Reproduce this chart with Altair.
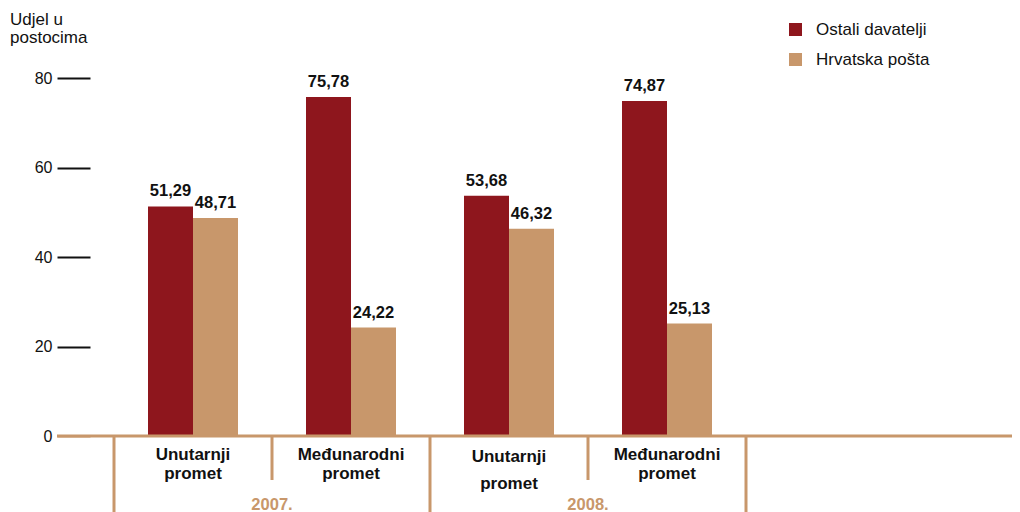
import altair as alt
import pandas as pd

# ---- data ----
years = ["2007.", "2007.", "2008.", "2008."]
types = ["Unutarnji promet", "Međunarodni promet", "Unutarnji promet", "Međunarodni promet"]
label_line1 = ["Unutarnji", "Međunarodni", "Unutarnji", "Međunarodni"]
label_line2 = ["promet", "promet", "promet", "promet"]
series = ["Ostali davatelji", "Hrvatska pošta"]
ostali = [51.29, 75.78, 53.68, 74.87]
hrvatska = [48.71, 24.22, 46.32, 25.13]
y_ticks = [0, 20, 40, 60, 80]
y_title = "Udjel u\npostocima"

# ---- style ----
FONT = "Liberation Sans"
RED = "#8E161D"
TAN = "#C8976B"
INK = "#111111"
W, H = 955, 358

keys = [f"{t} {y}" for t, y in zip(types, years)]
rows = []
for k, a, b in zip(keys, ostali, hrvatska):
    rows.append({"key": k, "series": series[0], "value": a})
    rows.append({"key": k, "series": series[1], "value": b})
bars_df = pd.DataFrame(rows)
cat_df = pd.DataFrame({"key": keys, "year": years, "l1": label_line1,
                       "l2": label_line2, "idx": list(range(len(keys)))})

x_scale = alt.Scale(domain=keys, range=[57, 689], paddingInner=0, paddingOuter=0)
x_axis = alt.Axis(labels=False, ticks=False, title=None, domain=False, grid=False)
y_scale = alt.Scale(domain=[0, 80], nice=False)
y_axis = alt.Axis(values=y_ticks, offset=-33, tickSize=33,
                  tickColor={"condition": {"test": "datum.value === 0", "value": TAN},
                             "value": INK},
                  tickWidth=2, domain=False, grid=False, labelFont=FONT, labelFontSize=16,
                  labelColor=INK, labelPadding=5, title=None)
xoff = alt.XOffset("series:N", scale=alt.Scale(domain=series, paddingInner=0,
                                               paddingOuter=0.7556))

base = alt.Chart(bars_df).encode(
    x=alt.X("key:N", scale=x_scale, axis=x_axis),
    xOffset=xoff,
    y=alt.Y("value:Q", scale=y_scale, axis=y_axis),
)

bars = base.mark_bar().encode(
    color=alt.Color("series:N", scale=alt.Scale(domain=series, range=[RED, TAN]),
                    legend=alt.Legend(orient="none", legendX=730, legendY=-57, title=None,
                                      symbolType="square", symbolSize=169,
                                      symbolStrokeWidth=0, labelFont=FONT,
                                      labelFontSize=17, labelColor=INK,
                                      rowPadding=12, labelOffset=12, padding=0))
)

vals = base.transform_calculate(
    lab="replace(format(datum.value, '.2f'), '.', ',')"
).mark_text(baseline="alphabetic", dy=-10, fontWeight="bold", fontSize=16.5,
            font=FONT, color=INK).encode(text="lab:N")

baseline_rule = alt.Chart(pd.DataFrame({"v": [0]})).mark_rule(
    color=TAN, strokeWidth=3).encode(
    x=alt.value(0), x2=alt.value(W),
    y=alt.Y("v:Q", scale=y_scale, axis=y_axis))

cbase = alt.Chart(cat_df)
xk = alt.X("key:N", scale=x_scale, axis=x_axis)
txt = dict(fontWeight="bold", fontSize=17, font=FONT, color=INK, baseline="middle")

l1 = cbase.transform_filter("datum.idx != 2").mark_text(**txt).encode(
    x=xk, y=alt.value(377), text="l1:N")
l2 = cbase.transform_filter("datum.idx != 2").mark_text(**txt).encode(
    x=xk, y=alt.value(396), text="l2:N")
l1b = cbase.transform_filter("datum.idx == 2").mark_text(**txt).encode(
    x=xk, y=alt.value(379), text="l1:N")
l2b = cbase.transform_filter("datum.idx == 2").mark_text(**txt).encode(
    x=xk, y=alt.value(406), text="l2:N")

sep_long = cbase.transform_filter("datum.idx == 0 || datum.idx == 2").mark_rule(
    color=TAN, strokeWidth=3).encode(
    x=alt.X("key:N", scale=x_scale, axis=x_axis, bandPosition=0),
    y=alt.value(H), y2=alt.value(H + 80))
sep_end = cbase.transform_filter("datum.idx == 3").mark_rule(
    color=TAN, strokeWidth=3).encode(
    x=alt.X("key:N", scale=x_scale, axis=x_axis, bandPosition=1),
    y=alt.value(H), y2=alt.value(H + 80))
sep_short = cbase.transform_filter("datum.idx == 1 || datum.idx == 3").mark_rule(
    color=TAN, strokeWidth=3).encode(
    x=alt.X("key:N", scale=x_scale, axis=x_axis, bandPosition=0),
    y=alt.value(H), y2=alt.value(402))

year_lbl = cbase.transform_filter("datum.idx == 1 || datum.idx == 3").mark_text(
    fontWeight="bold", fontSize=16.5, font=FONT, color=TAN, baseline="alphabetic").encode(
    x=alt.X("key:N", scale=x_scale, axis=x_axis, bandPosition=0),
    y=alt.value(432), text="year:N")

title_txt = alt.Chart(pd.DataFrame({"t": [y_title]})).mark_text(
    align="left", baseline="top", lineBreak="\n", lineHeight=18, fontSize=17,
    font=FONT, color=INK).encode(x=alt.value(-47), y=alt.value(-66), text="t:N")

chart = alt.layer(
    sep_long, sep_end, sep_short, bars, baseline_rule, vals, l1, l2, l1b, l2b,
    year_lbl, title_txt
).properties(
    width=W, height=H,
    autosize=alt.AutoSizeParams(type="none"),
    padding={"left": 49, "top": 70, "right": 0, "bottom": 76},
).configure_view(stroke=None)

chart.save("out.html", embed_options={"renderer": "svg", "actions": False})
